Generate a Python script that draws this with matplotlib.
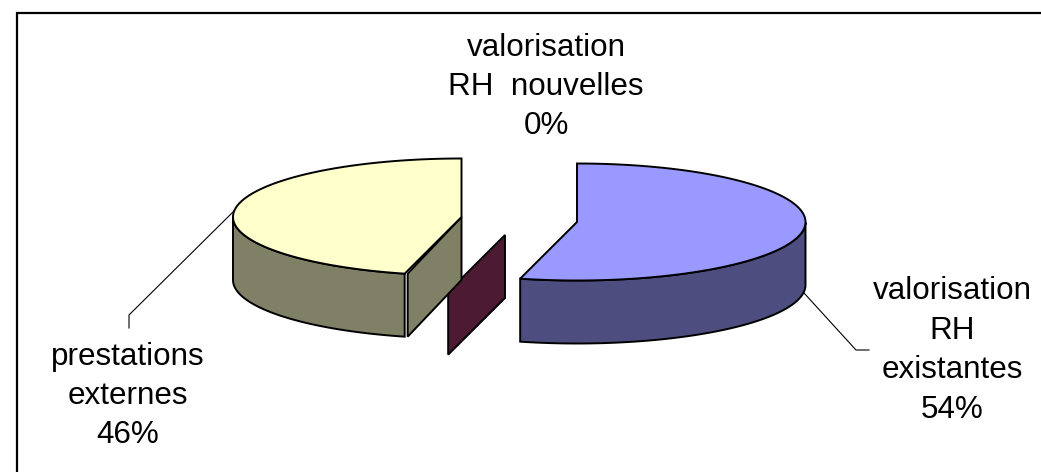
import numpy as np
import matplotlib
matplotlib.use("Agg")
import matplotlib.pyplot as plt
from matplotlib.patches import Polygon

labels = ["valorisation\nRH\nexistantes", "valorisation\nRH  nouvelles", "prestations\nexternes"]
shares = [54, 0, 46]
percents = ["54%", "0%", "46%"]

top_colors = ["#9999ff", "#660033", "#ffffcc"]
side_colors = ["#4d4d80", "#4d1a33", "#808066"]

# layout in pixels, y going down
centers = [(577, 222), (505, 235), (461.5, 217)]
label_pos = [(952, 350.5), (546, 87), (128, 396)]
leaders = [
    [(804, 293), (856, 350), (869, 350)],
    None,
    [(235, 210), (129, 315), (129, 328)],
]
RX = 228.5
RY = 58.5
DEPTH = 63
LW = 1.4
GAP = 3

plt.rcParams["font.family"] = ["Liberation Sans", "DejaVu Sans"]

fig = plt.figure(figsize=(10.41, 4.72), dpi=100)
ax = fig.add_axes([0, 0, 1, 1])
ax.set_xlim(0, 1041)
ax.set_ylim(472, 0)
ax.axis("off")


def rim(center, angles):
    rad = np.radians(angles)
    return np.column_stack([center[0] + RX * np.cos(rad), center[1] - RY * np.sin(rad)])


def draw_poly(points, color, z):
    ax.add_patch(Polygon(points, closed=True, facecolor=color, edgecolor="black",
                         linewidth=LW, joinstyle="miter", zorder=z))


def cut_face(center, angle, color, z, shift=0):
    edge = rim(center, [angle])[0]
    cx, cy = center
    draw_poly([(cx, cy), (cx, cy + DEPTH), (edge[0] + shift, edge[1] + DEPTH),
               (edge[0] + shift, edge[1])], color, z)


def draw_slice(center, start, end, top, side, z):
    # cut faces turned towards the viewer
    if np.cos(np.radians(start)) < -1e-6:
        cut_face(center, start, side, z, shift=GAP if start != end else 0)
    if np.cos(np.radians(end)) > 1e-6:
        cut_face(center, end, side, z)
    if start == end:
        return

    angles = np.linspace(start, end, 240)
    # outer wall only on the front half of the rim
    front = angles[np.sin(np.radians(angles)) <= 0]
    if len(front):
        upper = rim(center, front)
        lower = upper + [0, DEPTH]
        draw_poly(np.vstack([upper, lower[::-1]]), side, z + 0.1)

    draw_poly(np.vstack([[center], rim(center, angles)]), top, z + 0.2)


a = 90.0
total = sum(shares)
for i, share in enumerate(shares):
    b = a - 360.0 * share / total
    draw_slice(centers[i], a, b, top_colors[i], side_colors[i], 2 + i)
    a = b

for i, leader in enumerate(leaders):
    if leader:
        xs = [p[0] for p in leader]
        ys = [p[1] for p in leader]
        ax.plot(xs, ys, color="black", lw=0.8, zorder=1)

for label, pct, pos in zip(labels, percents, label_pos):
    ax.text(pos[0], pos[1], label + "\n" + pct, ha="center", va="center", fontsize=22.6,
            linespacing=1.41, color="black", zorder=10)

# chart frame, only left and top show in the crop
ax.plot([17, 17, 1041], [472, 12.5, 12.5], color="black", lw=1.6, zorder=11,
        solid_joinstyle="miter", clip_on=True)

fig.savefig("out.png", dpi=100)
plt.close(fig)
